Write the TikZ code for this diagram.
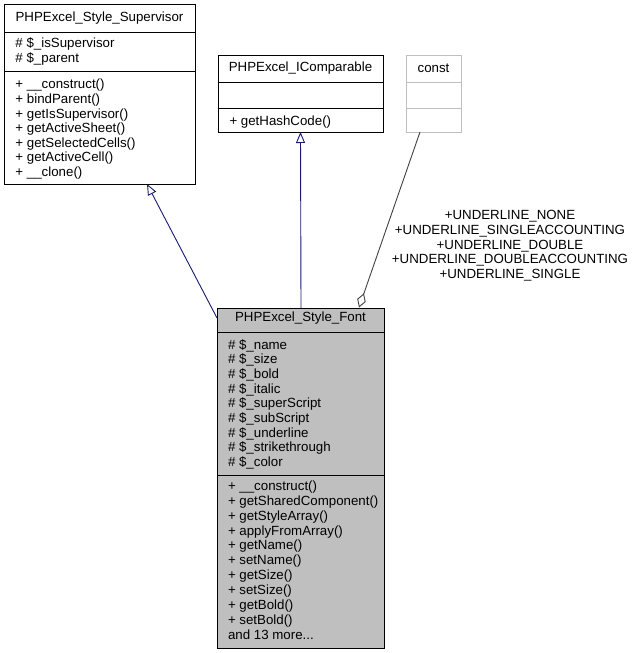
\documentclass[tikz,border=0pt]{standalone}
\usepackage{fontspec}
\setmainfont{Liberation Sans}
\usetikzlibrary{arrows.meta,calc}
\definecolor{navyedge}{HTML}{191970}
\definecolor{greyedge}{HTML}{404040}
\definecolor{fontfill}{HTML}{BFBFBF}
\definecolor{constedge}{HTML}{BFBFBF}
\tikzset{
  clsbox/.style={draw=black, line width=1pt, rectangle, inner sep=0pt, outer sep=0pt, anchor=north west},
  txt/.style={inner sep=0pt, outer sep=0pt, font=\fontsize{13.3}{14.6}\selectfont},
  inherit/.style={draw=navyedge, line width=0.9pt, -{Triangle[open, length=11pt, width=9pt]}},
  aggr/.style={draw=greyedge, line width=0.9pt, -{Diamond[open, length=15pt, width=9pt]}}
}
\begin{document}
\begin{tikzpicture}[x=1pt, y=-1pt]
\useasboundingbox (0,0) rectangle (637,653);
% Supervisor
\node[clsbox, minimum width=191pt, minimum height=180pt] (sup) at (4,4) {};
\draw[line width=1pt] (4,32) -- (195,32);
\draw[line width=1pt] (4,71) -- (195,71);
\node[txt] (suptitle) at (99.5,18) {PHPExcel\_Style\_Supervisor};
\foreach \t [count=\i] in {{\# \$\_isSupervisor},{\# \$\_parent}}
  \node[txt, anchor=base west] (supa\i) at (15.5,{42.7+4.8+(\i-1)*14.6}) {\t};
\foreach \t [count=\i] in {{+ \_\_construct()},{+ bindParent()},{+ getIsSupervisor()},{+ getActiveSheet()},{+ getSelectedCells()},{+ getActiveCell()},{+ \_\_clone()}}
  \node[txt, anchor=base west] (supm\i) at (15.5,{84+4.8+(\i-1)*14.6}) {\t};
% IComparable
\node[clsbox, minimum width=165pt, minimum height=77pt] (icmp) at (218,55) {};
\draw[line width=1pt] (218,82) -- (383,82);
\draw[line width=1pt] (218,108) -- (383,108);
\node[txt] (icmptitle) at (300.5,68.3) {PHPExcel\_IComparable};
\node[txt, anchor=base west] (icmpm1) at (229.5,{120.5+4.8}) {+ getHashCode()};
% const
\node[clsbox, draw=constedge, minimum width=55pt, minimum height=77pt] (cst) at (406,55) {};
\draw[line width=1pt, constedge] (406,82) -- (461,82);
\draw[line width=1pt, constedge] (406,108) -- (461,108);
\node[txt] (csttitle) at (433.5,68.3) {const};
% Font
\node[clsbox, fill=fontfill, minimum width=167pt, minimum height=340pt] (font) at (217,308) {};
\draw[line width=1pt] (217,332) -- (384,332);
\draw[line width=1pt] (217,475) -- (384,475);
\node[txt] (fonttitle) at (300.5,318.5) {PHPExcel\_Style\_Font};
\foreach \t [count=\i] in {{\# \$\_name},{\# \$\_size},{\# \$\_bold},{\# \$\_italic},{\# \$\_superScript},{\# \$\_subScript},{\# \$\_underline},{\# \$\_strikethrough},{\# \$\_color}}
  \node[txt, anchor=base west] (fonta\i) at (228,{344.3+4.8+(\i-1)*14.68}) {\t};
\foreach \t [count=\i] in {{+ \_\_construct()},{+ getSharedComponent()},{+ getStyleArray()},{+ applyFromArray()},{+ getName()},{+ setName()},{+ getSize()},{+ setSize()},{+ getBold()},{+ setBold()}}
  \node[txt, anchor=base west] (fontm\i) at (228,{485.7+4.8+(\i-1)*14.86}) {\t};
\node[txt, anchor=base west] (fontmore) at (228,{485.7+4.8+10*14.86}) {and 13 more...};
% connectors
\draw[inherit] ($(font.north west)+(0,10)$) -- ($(sup.south west)+(143,0)$);
\draw[inherit] ($(font.north west)+(84,0)$) -- ($(icmp.south west)+(82.5,0)$);
\draw[aggr] ($(cst.south west)+(14,0)$) -- ($(font.north west)+(142,-0.5)$);
% labels
\foreach \t [count=\i] in {{+UNDERLINE\_NONE},{+UNDERLINE\_SINGLEACCOUNTING},{+UNDERLINE\_DOUBLE},{+UNDERLINE\_DOUBLEACCOUNTING},{+UNDERLINE\_SINGLE}}
  \node[txt, anchor=base] (lbl\i) at (510,{215+4.8+(\i-1)*14.67}) {\t};
\end{tikzpicture}
\end{document}
